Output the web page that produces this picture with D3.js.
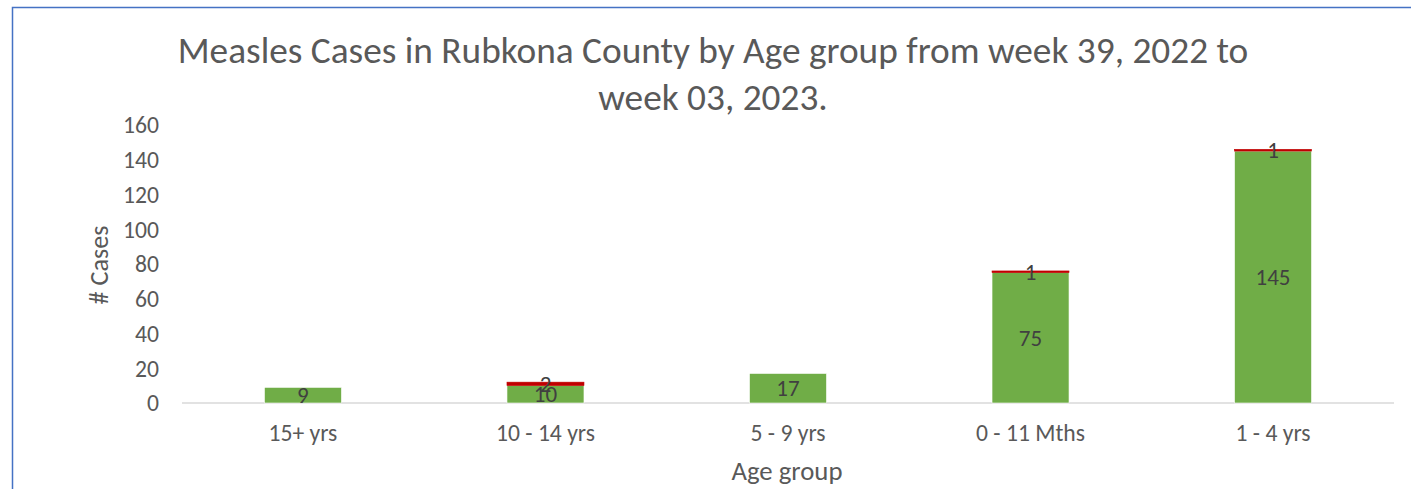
<!DOCTYPE html>
<html>
<head>
<meta charset="utf-8">
<script src="https://cdn.jsdelivr.net/npm/d3@7"></script>
<style>
  body { margin: 0; background: #fff; }
  text { font-family: Calibri, Carlito, Lato, "Open Sans", sans-serif; fill: #595959; }
</style>
</head>
<body>
<script>
// chart data
const categories = ['15+ yrs', '10 - 14 yrs', '5 - 9 yrs', '0 - 11 Mths', '1 - 4 yrs'];
const alive = [9, 10, 17, 75, 145];
const dead = [0, 2, 0, 1, 1];
const yTicks = [0, 20, 40, 60, 80, 100, 120, 140, 160];
const titleLines = ['Measles Cases in Rubkona County by Age group from week 39, 2022 to', 'week 03, 2023.'];

const width = 1411, height = 489;
const margin = {left: 182, right: 17, top: 125, bottom: 86};

const svg = d3.select('body').append('svg')
  .attr('width', width)
  .attr('height', height);

// scale a group of texts so a sample string gets the wanted width
const fit = (sel, sample, target) => {
  const probe = svg.append('text').style('font-size', '20px').text(sample);
  const w = probe.node().getComputedTextLength();
  probe.remove();
  sel.style('font-size', (20 * target / w) + 'px');
};

// outer chart border
svg.append('rect')
  .attr('x', 12.5).attr('y', 7.5)
  .attr('width', width + 20).attr('height', height + 20)
  .attr('fill', 'none')
  .attr('stroke', '#4472c4')
  .attr('stroke-width', 1.5);

const x = d3.scaleBand()
  .domain(categories)
  .range([margin.left, width - margin.right])
  .paddingInner(0.6825)
  .paddingOuter(0.34);

const y = d3.scaleLinear()
  .domain([0, 160])
  .range([height - margin.bottom, margin.top]);

// title
const title = svg.append('g');
titleLines.forEach((t, i) => {
  title.append('text')
    .attr('x', 713)
    .attr('y', 63 + i * 47)
    .attr('text-anchor', 'middle')
    .text(t);
});
fit(title.selectAll('text'), titleLines[0], 1071);

// y tick labels
const yt = svg.selectAll('.ytick')
  .data(yTicks)
  .enter()
  .append('text')
  .attr('class', 'ytick')
  .attr('x', 159)
  .attr('y', (d) => y(d))
  .attr('dy', '0.35em')
  .attr('text-anchor', 'end')
  .text((d) => d);
fit(yt, '160', 36);

// baseline
svg.append('line')
  .attr('x1', margin.left).attr('x2', width - margin.right)
  .attr('y1', y(0)).attr('y2', y(0))
  .attr('stroke', '#d9d9d9')
  .attr('stroke-width', 1.5);

// stacked data
const rows = categories.map((c, i) => ({cat: c, alive: alive[i], dead: dead[i]}));
const stack = d3.stack().keys(['alive', 'dead'])(rows);
const colors = {alive: '#70ad47', dead: '#c00000'};

const layers = svg.selectAll('.layer')
  .data(stack)
  .enter()
  .append('g')
  .attr('class', 'layer')
  .attr('fill', (d) => colors[d.key]);

layers.selectAll('rect')
  .data((d) => d)
  .enter()
  .append('rect')
  .attr('x', (d) => x(d.data.cat))
  .attr('width', x.bandwidth())
  .attr('y', (d) => y(d[1]))
  .attr('height', (d) => y(d[0]) - y(d[1]))
  .attr('stroke', (d, i, n) => d3.select(n[i].parentNode).datum().key === 'dead' ? colors.dead : '#fff')
  .attr('stroke-width', 0.6);

// data labels
stack.forEach((layer) => {
  const lb = svg.selectAll('.lbl-' + layer.key)
    .data(layer.filter((d) => d[1] - d[0] > 0))
    .enter()
    .append('text')
    .attr('class', 'lbl-' + layer.key)
    .attr('x', (d) => x(d.data.cat) + x.bandwidth() / 2)
    .attr('y', (d) => (y(d[0]) + y(d[1])) / 2)
    .attr('dy', '0.35em')
    .attr('text-anchor', 'middle')
    .style('fill', '#404040')
    .text((d) => d[1] - d[0]);
  fit(lb, '145', 35);
});

// category labels
const xt = svg.selectAll('.xtick')
  .data(categories)
  .enter()
  .append('text')
  .attr('class', 'xtick')
  .attr('x', (d) => x(d) + x.bandwidth() / 2)
  .attr('y', 441)
  .attr('text-anchor', 'middle')
  .text((d) => d);
fit(xt, '0 - 11 Mths', 109);

// axis titles
const xTitle = svg.append('text')
  .attr('x', 787)
  .attr('y', 480)
  .attr('text-anchor', 'middle')
  .text('Age group');
fit(xTitle, 'Age group', 111);

const yTitle = svg.append('text')
  .attr('transform', 'translate(108,265) rotate(-90)')
  .attr('text-anchor', 'middle')
  .text('# Cases');
fit(yTitle, '# Cases', 79);
</script>
</body>
</html>
